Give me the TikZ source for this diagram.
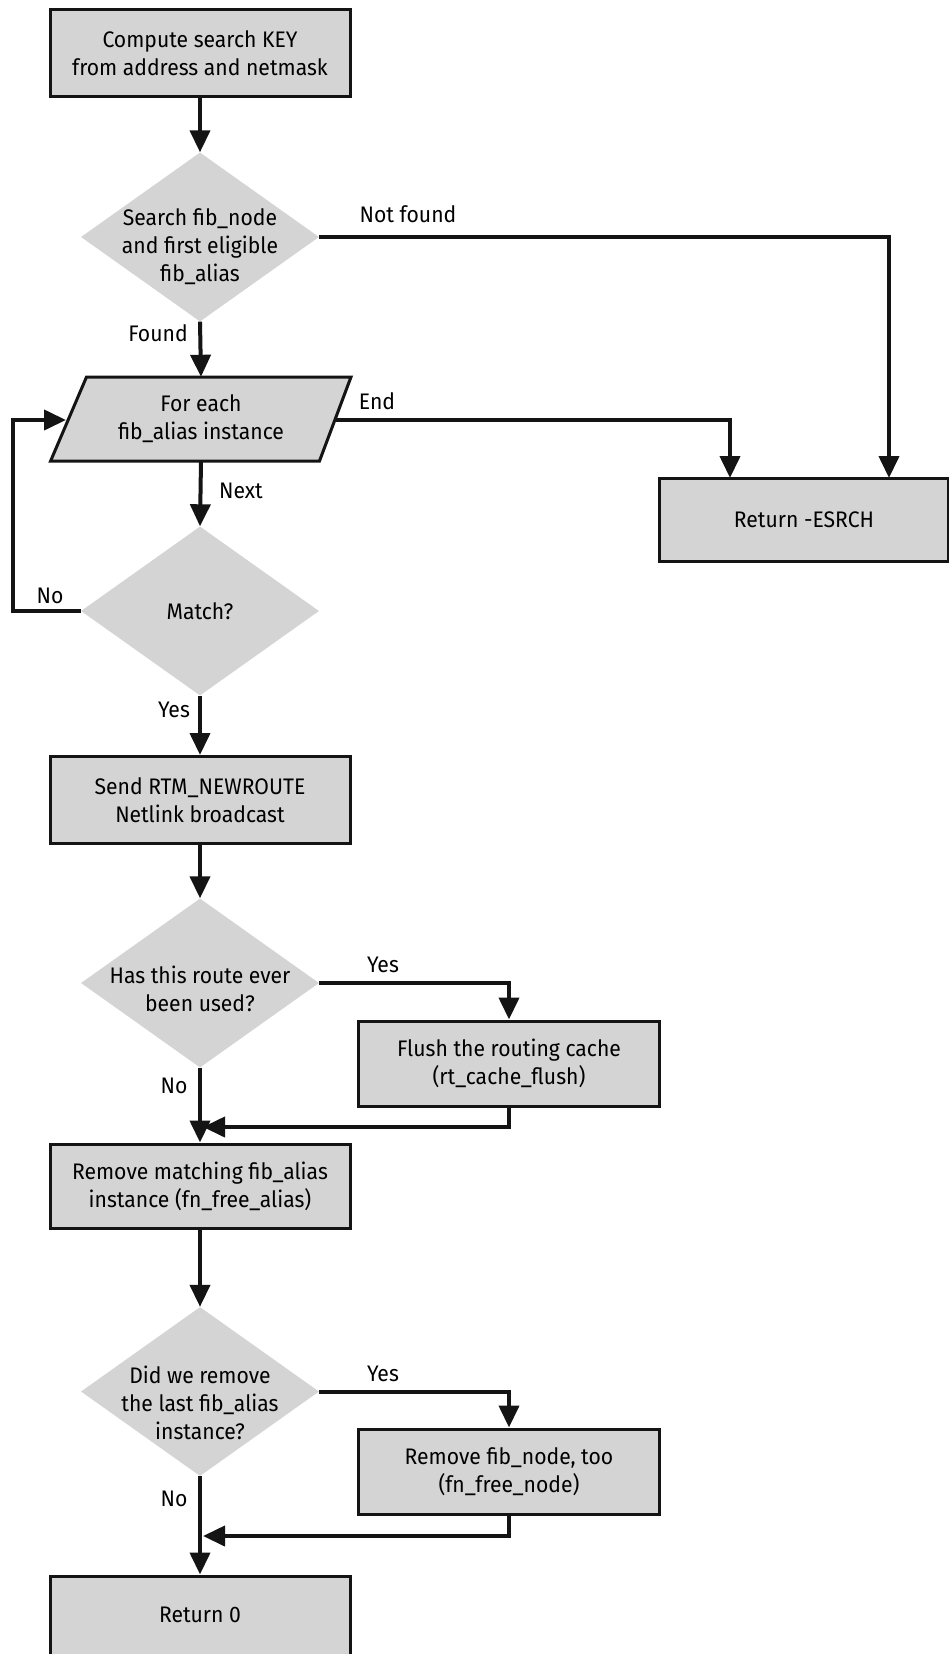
\documentclass[tikz,border=0pt]{standalone}
\usepackage{fontspec}
\setmainfont[FakeStretch=0.94]{Fira Sans}
\usetikzlibrary{shapes.geometric,arrows.meta}
\definecolor{boxgray}{RGB}{212,212,212}
\definecolor{linecol}{RGB}{20,20,20}
\newcommand{\fs}{\fontsize{22.5}{28}\selectfont}
\tikzset{
  procbox/.style={draw=linecol, line width=3pt, fill=boxgray, inner sep=0pt, align=center, font=\fs},
  decbox/.style={diamond, fill=boxgray, inner sep=0pt, minimum width=238pt, minimum height=169pt},
  dectext/.style={align=center, font=\fs, inner sep=0pt},
  lbl/.style={font=\fs, inner sep=0pt},
  conn/.style={draw=linecol, line width=4pt},
  arr/.style={conn, -{Triangle[length=22pt,width=20pt]}},
}
\begin{document}
\begin{tikzpicture}[x=1pt,y=-1pt]
\useasboundingbox (0,0) rectangle (949,1654);
\fill[white] (0,0) rectangle (949,1654);
\clip (0,0) rectangle (949,1654);

% nodes
\node[procbox, minimum width=300pt, minimum height=86pt] (b1) at (200,53) {Compute search KEY\\from address and netmask};
\node[decbox] (d1) at (200,237) {};
\node[dectext] at (200,247) {Search fib\_node\\and first eligible\\fib\_alias};

\filldraw[draw=linecol, line width=3pt, fill=boxgray] (86.5,377) -- (351,377) -- (319.5,461) -- (50.6,461) -- cycle;
\node[dectext, minimum width=268pt, minimum height=84pt] (p) at (201,419) {For each\\fib\_alias instance};
\coordinate (pR) at (335,420);
\coordinate (pL) at (66,420);

\node[procbox, minimum width=289pt, minimum height=83pt] (esrch) at (804,519.5) {Return -ESRCH};
\coordinate (e1) at (730,478);
\coordinate (e2) at (889,478);

\node[decbox] (d2) at (200,611) {};
\node[dectext] at (d2) {Match?};
\coordinate (loopA) at (12.6,611);
\coordinate (loopB) at (12.6,420);

\node[procbox, minimum width=300pt, minimum height=87pt] (b3) at (200,800) {Send RTM\_NEWROUTE\\Netlink broadcast};

\node[decbox] (d3) at (200,983) {};
\node[dectext] at (200,989) {Has this route ever\\been used?};
\node[procbox, minimum width=301pt, minimum height=85pt] (flush) at (509,1063.5) {Flush the routing cache\\(rt\_cache\_flush)};
\coordinate (j1) at (203,1127);

\node[procbox, minimum width=300pt, minimum height=84pt] (b4) at (200,1186) {Remove matching fib\_alias\\instance (fn\_free\_alias)};

\node[decbox] (d4) at (200,1391.5) {};
\node[dectext] at (200,1403) {Did we remove\\the last fib\_alias\\instance?};
\node[procbox, minimum width=301pt, minimum height=85pt] (fnode) at (509,1471.5) {Remove fib\_node, too\\(fn\_free\_node)};
\coordinate (j2) at (203,1536);

\node[procbox, minimum width=300pt, minimum height=88pt] (b5) at (200,1620) {};
\node[dectext] at (200,1615) {Return 0};

% connectors
\draw[arr] (b1.south) -- (d1.north);
\draw[arr] (d1.south) -- (p.north);
\draw[arr] (d1.east) -| (e2);
\draw[arr] (pR) -| (e1);
\draw[arr] (p.south) -- (d2.north);
\draw[arr] (d2.west) -- (loopA) -- (loopB) -- (pL);
\draw[arr] (d2.south) -- (b3.north);
\draw[arr] (b3.south) -- (d3.north);
\draw[arr] (d3.east) -| (flush.north);
\draw[arr] (flush.south) |- (j1);
\draw[arr] (d3.south) -- (b4.north);
\draw[arr] (b4.south) -- (d4.north);
\draw[arr] (d4.east) -| (fnode.north);
\draw[arr] (fnode.south) |- (j2);
\draw[arr] (d4.south) -- (b5.north);

% labels
\node[lbl] (lnf) at (408,214) {Not found};
\node[lbl] (lfound) at (158,333) {Found};
\node[lbl] (lend) at (377,401) {End};
\node[lbl] (lnext) at (241,491) {Next};
\node[lbl] (lno1) at (50,596) {No};
\node[lbl] (lyes1) at (174,710) {Yes};
\node[lbl] (lyes2) at (383,965) {Yes};
\node[lbl] (lno2) at (174,1086) {No};
\node[lbl] (lyes3) at (383,1374) {Yes};
\node[lbl] (lno3) at (174,1499) {No};
\end{tikzpicture}
\end{document}
